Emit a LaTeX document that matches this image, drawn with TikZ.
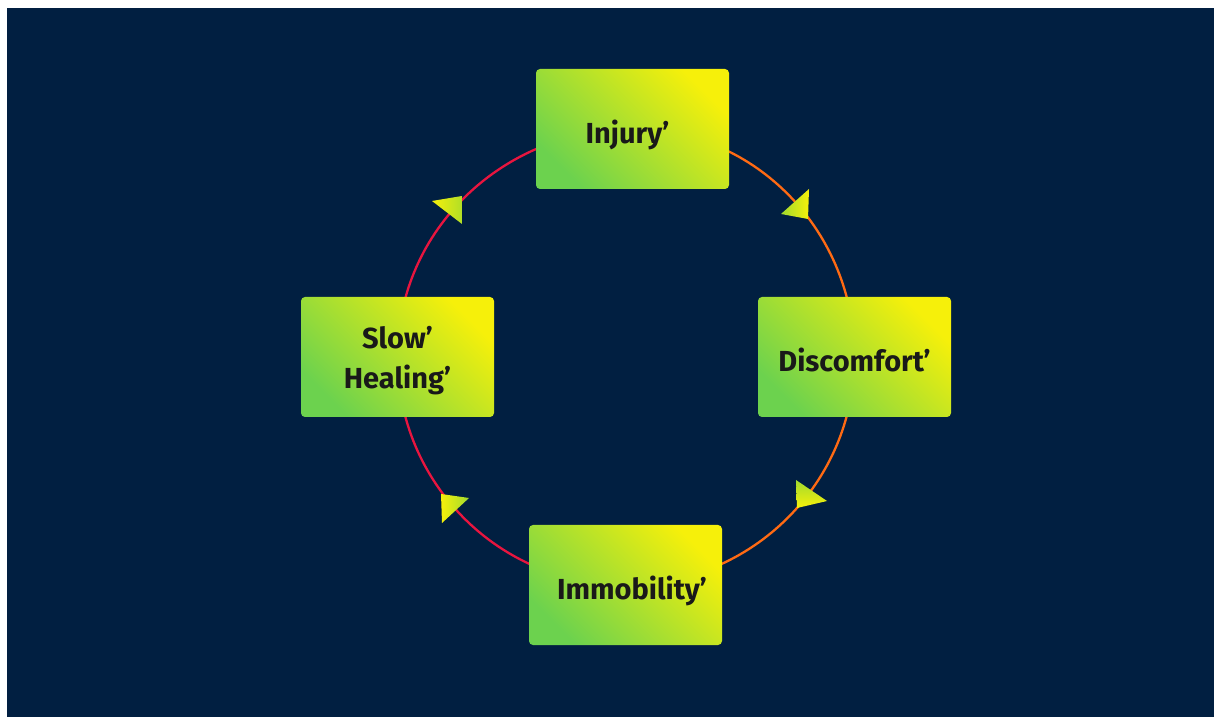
\documentclass[tikz,border=0pt]{standalone}
\usepackage{fontspec}
\setmainfont{Fira Sans}
\usepackage{tikz}
\usetikzlibrary{positioning}
\definecolor{navy}{RGB}{1,31,65}
\definecolor{boxyellow}{RGB}{246,240,10}
\definecolor{boxgreen}{RGB}{108,210,78}
\definecolor{tipgreen}{RGB}{160,218,46}
\definecolor{lineorange}{RGB}{255,106,19}
\definecolor{linered}{RGB}{232,21,63}
\pgfdeclarelayer{back}
\pgfsetlayers{back,main}
\tikzset{
  stagebox/.style={rectangle, rounded corners=4pt, inner sep=0pt,
    minimum width=193pt, minimum height=120pt,
    top color=boxyellow, bottom color=boxgreen, shading angle=-45,
    font=\bfseries\fontsize{29}{40}\selectfont, text=black!90,
    align=center},
  oneline/.style={text height=29pt, text depth=0pt},
  warmarc/.style={draw=lineorange, line width=2.3pt},
  coldarc/.style={draw=linered, line width=2.3pt}
}
\newcommand{\cyclehead}[4]{\shade[#1] #2 -- #3 -- #4 -- cycle;}

\begin{document}
\begin{tikzpicture}[x=1pt,y=1pt]
	\useasboundingbox (0,0) rectangle (1214,717);

	\begin{pgfonlayer}{back}
		\fill[white] (0,0) rectangle (1214,717);
		\fill[navy] (7,0) rectangle (1214,709);
	\end{pgfonlayer}

	% stages of the cycle
	\node[stagebox, oneline] (injury) at (632.5,588) {Injury’\hspace*{10pt}};
	\node[stagebox, oneline] (discomfort) at (854.5,360) {Discomfort’};
	\node[stagebox, oneline] (immobility) at (625.5,132) {\hspace*{13pt}Immobility’};
	\node[stagebox, text height=64pt, text depth=0pt] (healing) at (397.5,360) {Slow’\\Healing’};

	% the ring
	\begin{pgfonlayer}{back}
		\draw[warmarc] (injury.center) to[out=0, in=90] (discomfort.center);
		\draw[warmarc] (discomfort.center) to[out=-90, in=0] (immobility.center);
		\draw[coldarc] (immobility.center) to[out=180, in=-90] (healing.center);
		\draw[coldarc] (healing.center) to[out=90, in=180] (injury.center);
	\end{pgfonlayer}

	% heads
	\cyclehead{left color=tipgreen, right color=boxyellow}{(781,503)}{(809,528)}{(808,498)}
	\cyclehead{top color=tipgreen, bottom color=boxyellow}{(796,237)}{(797,209)}{(827,216)}
	\cyclehead{left color=boxyellow, right color=tipgreen}{(441,223)}{(442,194)}{(469,219)}
	\cyclehead{left color=boxyellow, right color=tipgreen!80!boxyellow}{(432,516)}{(462,521)}{(462,493)}

\end{tikzpicture}
\end{document}
